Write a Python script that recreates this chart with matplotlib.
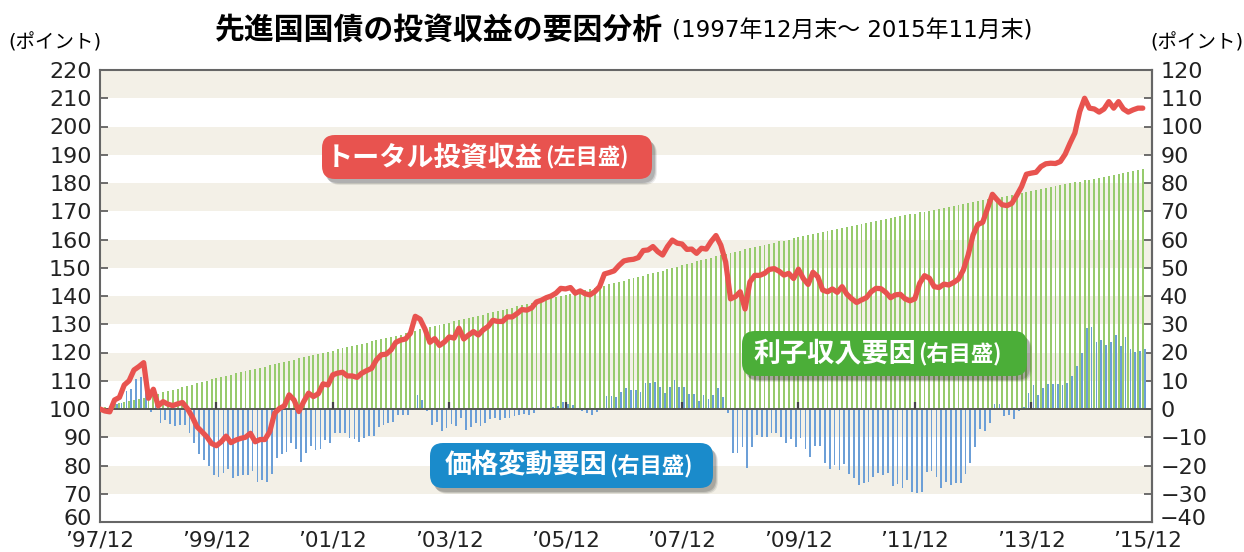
import numpy as np
import matplotlib
matplotlib.use("Agg")
import matplotlib.pyplot as plt
import matplotlib.transforms as mtransforms
from matplotlib.patches import FancyBboxPatch

plt.rcParams['font.family'] = ['DejaVu Sans', 'Noto Sans CJK JP']
JP = ['Noto Sans CJK JP', 'DejaVu Sans']

# monthly, '97/12 .. '15/11 (index points)
total = [100.0, 99.3, 99.0, 103.2, 104.1, 108.5, 110.0, 113.8, 115.0, 116.4,
         103.8, 107.0, 101.1, 102.6, 101.7, 101.2, 101.8, 102.3, 100.2, 97.3,
         93.7, 92.0, 90.2, 87.8, 87.0, 88.4, 90.4, 88.1, 89.0, 89.6,
         90.0, 91.4, 88.4, 89.2, 89.2, 92.0, 98.5, 100.2, 101.1, 105.0,
         103.2, 99.1, 102.6, 105.6, 104.4, 105.4, 108.9, 108.5, 112.1, 112.7,
         113.0, 111.7, 111.7, 111.2, 112.7, 113.6, 114.4, 117.4, 119.2, 119.4,
         120.9, 123.6, 124.4, 124.8, 126.8, 132.8, 131.8, 128.3, 123.6, 124.9,
         122.5, 123.7, 125.5, 125.1, 128.6, 124.8, 126.2, 127.4, 126.2, 128.0,
         129.2, 131.4, 131.0, 131.0, 132.6, 132.6, 133.8, 135.2, 135.0, 135.8,
         137.9, 138.5, 139.4, 140.0, 141.0, 142.7, 142.5, 143.0, 141.0, 141.8,
         140.8, 140.4, 141.5, 143.3, 147.8, 148.3, 148.9, 150.8, 152.4, 152.8,
         153.0, 153.6, 156.1, 156.3, 157.5, 155.7, 154.5, 157.5, 159.8, 158.7,
         158.4, 156.5, 156.6, 155.1, 156.9, 156.6, 159.3, 161.4, 158.0, 152.0,
         139.0, 139.8, 141.5, 135.4, 145.0, 147.3, 147.3, 148.0, 149.4, 149.7,
         148.8, 147.4, 148.0, 146.2, 149.5, 146.2, 144.1, 148.4, 146.8, 142.1,
         141.5, 142.5, 141.3, 143.3, 140.6, 139.0, 137.7, 138.6, 139.4, 141.5,
         142.7, 142.6, 141.3, 139.4, 140.4, 140.6, 139.0, 138.3, 139.0, 144.5,
         147.2, 146.3, 143.3, 143.0, 144.2, 143.9, 144.8, 146.0, 149.2, 154.5,
         161.6, 165.3, 166.1, 171.0, 176.0, 174.0, 172.3, 172.0, 172.8, 175.6,
         178.7, 183.1, 183.5, 183.8, 185.8, 186.8, 187.0, 186.9, 187.6, 190.2,
         194.1, 197.7, 205.3, 210.0, 206.5, 206.2, 205.1, 206.2, 208.8, 206.5,
         208.8, 206.2, 205.1, 205.9, 206.5, 206.5]

interest = [0.4, 0.8, 1.2, 1.6, 2.0, 2.4, 2.8, 3.2, 3.6, 4.0,
            4.4, 4.9, 5.4, 5.9, 6.3, 6.8, 7.2, 7.7, 8.2, 8.6,
            9.1, 9.6, 10.0, 10.5, 11.0, 11.4, 11.8, 12.2, 12.6, 13.0,
            13.4, 13.8, 14.2, 14.6, 15.0, 15.4, 15.8, 16.3, 16.7, 17.1,
            17.5, 17.9, 18.3, 18.7, 19.1, 19.5, 19.9, 20.3, 20.7, 21.1,
            21.5, 21.9, 22.3, 22.7, 23.1, 23.5, 23.9, 24.3, 24.7, 25.1,
            25.5, 25.9, 26.3, 26.8, 27.2, 27.7, 28.2, 28.6, 29.0, 29.4,
            29.8, 30.2, 30.6, 31.0, 31.4, 31.8, 32.2, 32.6, 33.0, 33.4,
            33.9, 34.3, 34.7, 35.1, 35.5, 35.9, 36.3, 36.7, 37.1, 37.5,
            38.0, 38.4, 38.8, 39.2, 39.6, 40.0, 40.4, 40.8, 41.2, 41.6,
            42.0, 42.4, 42.8, 43.3, 43.7, 44.1, 44.5, 45.0, 45.4, 45.9,
            46.3, 46.8, 47.2, 47.7, 48.1, 48.6, 49.0, 49.5, 49.9, 50.4,
            50.8, 51.3, 51.8, 52.3, 52.7, 53.2, 53.6, 54.1, 54.5, 54.9,
            55.3, 55.7, 56.1, 56.5, 56.9, 57.3, 57.7, 58.1, 58.5, 58.9,
            59.3, 59.6, 60.0, 60.4, 60.8, 61.2, 61.5, 61.9, 62.3, 62.7,
            63.0, 63.4, 63.8, 64.1, 64.5, 64.9, 65.2, 65.6, 65.9, 66.2,
            66.6, 66.9, 67.2, 67.6, 67.9, 68.2, 68.6, 68.9, 69.2, 69.6,
            69.9, 70.2, 70.5, 70.9, 71.2, 71.5, 71.9, 72.2, 72.5, 72.9,
            73.2, 73.5, 73.9, 74.2, 74.5, 74.9, 75.2, 75.5, 75.9, 76.2,
            76.5, 76.9, 77.2, 77.5, 77.9, 78.2, 78.5, 78.9, 79.2, 79.5,
            79.9, 80.2, 80.5, 80.9, 81.2, 81.5, 81.9, 82.2, 82.5, 82.9,
            83.2, 83.5, 83.9, 84.2, 84.5, 84.9]

price = [0.0, -0.6, -0.8, 1.6, 2.1, 6.3, 7.0, 10.6, 11.2, 12.2,
         -1.2, 1.8, -5.0, -3.8, -5.3, -5.9, -5.7, -5.7, -8.6, -11.9,
         -16.0, -18.0, -20.1, -23.2, -24.0, -22.8, -21.2, -24.5, -23.6, -23.4,
         -23.4, -22.1, -25.7, -25.2, -25.7, -23.1, -17.2, -15.9, -15.3, -12.0,
         -14.0, -18.9, -15.4, -13.1, -14.6, -14.2, -11.0, -12.0, -8.6, -8.6,
         -8.6, -10.3, -10.7, -11.6, -10.2, -9.7, -9.5, -6.4, -5.7, -5.0,
         -4.5, -2.1, -2.0, -2.1, -0.5, 5.0, 3.2, -0.6, -5.8, -4.6,
         -7.7, -6.6, -5.2, -6.0, -3.2, -7.4, -6.4, -5.0, -6.0, -5.0,
         -3.6, -3.1, -4.0, -3.3, -3.1, -2.5, -2.2, -1.8, -2.3, -1.4,
         -0.3, 0.2, 0.4, 0.6, 0.9, 2.5, 1.8, 1.5, -0.2, -0.6,
         -1.4, -2.0, -1.2, -0.3, 4.6, 4.6, 4.2, 6.1, 7.3, 6.9,
         6.9, 6.1, 9.3, 9.1, 9.7, 7.7, 5.8, 7.9, 10.3, 7.9,
         7.9, 5.3, 5.3, 2.9, 5.0, 3.4, 5.0, 7.5, 4.2, -1.3,
         -15.7, -15.7, -13.3, -21.0, -13.6, -9.2, -10.0, -10.0, -8.6, -8.4,
         -9.8, -12.2, -10.7, -13.6, -10.4, -14.3, -17.1, -13.1, -13.1, -19.2,
         -21.4, -19.8, -21.6, -19.5, -23.0, -24.5, -26.9, -26.1, -25.7, -23.9,
         -22.8, -23.4, -22.8, -27.3, -26.5, -28.1, -25.1, -29.3, -29.6, -29.3,
         -22.2, -21.8, -24.2, -28.1, -25.7, -26.9, -26.3, -26.3, -23.1, -19.0,
         -13.6, -7.2, -7.7, -5.1, 1.7, 1.7, -2.5, -2.1, -3.7, -0.6,
         0.6, 5.6, 8.5, 5.0, 7.3, 8.9, 8.9, 8.7, 8.5, 9.3,
         11.7, 15.2, 19.9, 28.6, 29.1, 23.6, 24.4, 22.6, 23.8, 26.2,
         22.3, 25.6, 21.4, 20.3, 20.6, 21.1]

xlabels = ["’97/12", "’99/12", "’01/12", "’03/12", "’05/12",
           "’07/12", "’09/12", "’11/12", "’13/12", "’15/12"]
left_ticks = list(range(60, 221, 10))
right_ticks = list(range(-40, 121, 10))

W, H = 1244, 552
months = np.arange(len(total))

fig = plt.figure(figsize=(W / 100, H / 100), dpi=100)
ax = fig.add_axes([100 / W, 30 / H, 1052 / W, 452 / H])
ax.set_xlim(0, 216.9)
ax.set_ylim(60, 220)

# beige bands
for lo in range(70, 220, 20):
    ax.axhspan(lo, lo + 10, color="#F3F0E7", lw=0, zorder=0)

# right-scale bars sit on the 100 line (= 0 on the right axis)
ax.bar(months, interest, width=0.4, bottom=100, color="#97CB6D", zorder=2)
ax.bar(months + 0.45, price, width=0.36, bottom=100, color="#6C9FD7",
       zorder=3)
ax.axhline(100, color="#555555", lw=1.4, zorder=4)
yr = np.arange(24, 216, 24)
ax.vlines(yr, 100, 102.6, color="#444444", lw=1.6, zorder=4)

ax.plot(months, total, color="#E8534F", lw=3.8, solid_joinstyle="round",
        solid_capstyle="round", zorder=5)

# bottom-most y labels drawn by hand a few pixels higher so they clear the
# date labels
ax.set_yticks(left_ticks)
ax.set_yticklabels([""] + [str(v) for v in left_ticks[1:]])
ax.tick_params(axis="y", direction="in", length=6, width=1.2,
               color="#555555", labelsize=16, pad=6, labelcolor="#222222")
ax.set_xticks(range(0, 217, 24))
ax.set_xticklabels(xlabels)
ax.tick_params(axis="x", length=0, labelsize=15.5, pad=6,
               labelcolor="#222222")
for s in ax.spines.values():
    s.set_color("#666666")
    s.set_linewidth(1.5)

sec = ax.secondary_yaxis("right", functions=(lambda v: v - 100,
                                             lambda v: v + 100))
sec.set_yticks(right_ticks)
sec.set_yticklabels([""] + ["−" + str(-v) if v < 0 else str(v)
                            for v in right_ticks[1:]])
sec.tick_params(direction="in", length=6, width=1.2, color="#555555",
                labelsize=16, pad=6, labelcolor="#222222")
sec.spines["right"].set_color("#666666")
sec.spines["right"].set_linewidth(1.5)

up = mtransforms.offset_copy(ax.get_yaxis_transform(), fig=fig, x=0, y=5,
                             units="dots")
ax.text(-8 / 1052, 60, str(left_ticks[0]), transform=up, ha="right",
        va="center_baseline", fontsize=16, color="#222222")
ax.text(1 + 8 / 1052, 60, "−" + str(-right_ticks[0]), transform=up,
        ha="left", va="center_baseline", fontsize=16, color="#222222")

# titles
fig.text(215 / W, 1 - 30 / H, "先進国国債の投資収益の要因分析",
         fontsize=21.5, fontweight="bold", ha="left", va="center", family=JP)
fig.text(672 / W, 1 - 31 / H, "(1997年12月末～ 2015年11月末)",
         fontsize=16.5, ha="left", va="center")
fig.text(8 / W, 1 - 43 / H, "(ポイント)", fontsize=14, ha="left",
         va="center")
fig.text(1150 / W, 1 - 43 / H, "(ポイント)", fontsize=14, ha="left",
         va="center")

# label boxes (pixel overlay)
ov = fig.add_axes([0, 0, 1, 1], zorder=10)
ov.set_xlim(0, W)
ov.set_ylim(H, 0)
ov.axis("off")
boxes = [
    (322, 135, 330, 44, "#E8534F", "トータル投資収益", "(左目盛)", 543),
    (742, 331, 285, 45, "#4BAE38", "利子収入要因", "(右目盛)", 916),
    (430, 443, 283, 45, "#1A8BCB", "価格変動要因", "(右目盛)", 607),
]
for x0, y0, w, h, col, main, sub, split in boxes:
    for k, a in ((5, 0.08), (4, 0.12), (3, 0.14)):
        ov.add_patch(FancyBboxPatch((x0 + k, y0 + k + 1), w, h,
                                    boxstyle="round,pad=0,rounding_size=13",
                                    fc="#000000", ec="none", alpha=a))
    ov.add_patch(FancyBboxPatch((x0, y0), w, h,
                                boxstyle="round,pad=0,rounding_size=13",
                                fc=col, ec="none"))
    ov.text(split, y0 + h / 2, main, color="white", fontsize=19.5,
            fontweight="bold", ha="right", va="center", family=JP)
    ov.text(split + 2, y0 + h / 2 + 1, sub, color="white", fontsize=16,
            fontweight="bold", ha="left", va="center", family=JP)

fig.savefig("out.png", dpi=100)
